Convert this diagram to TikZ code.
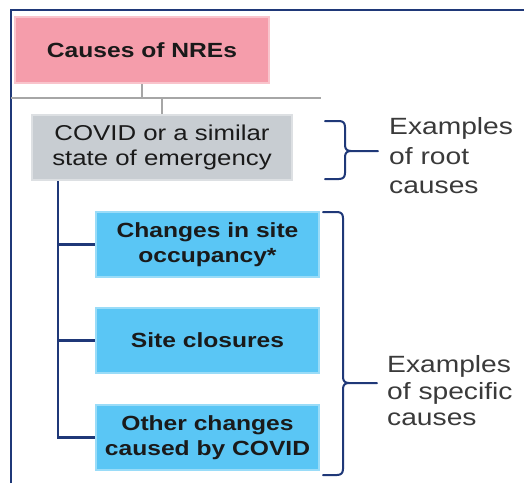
\documentclass[tikz,border=0pt]{standalone}
\usepackage{fontspec}
\setmainfont{Liberation Sans}[FakeStretch=1.2]
\definecolor{navy}{HTML}{1F3878}
\definecolor{pinkfill}{HTML}{F59DAB}
\definecolor{pinkline}{HTML}{F9C4CC}
\definecolor{greyfill}{HTML}{C8CDD2}
\definecolor{greyline}{HTML}{DDE0E3}
\definecolor{bluefill}{HTML}{5AC6F5}
\definecolor{blueline}{HTML}{9ADCF8}
\definecolor{connector}{HTML}{A6A6A6}
\definecolor{labeltext}{HTML}{3A3A3A}
\definecolor{boxtext}{HTML}{1A1A1A}
\tikzset{
  box/.style={draw, line width=2pt, inner sep=0pt, align=center, text=boxtext},
  pinkbox/.style={box, fill=pinkfill, draw=pinkline, minimum width=254pt, minimum height=66pt, font=\bfseries\fontsize{20.5}{25}\selectfont},
  greybox/.style={box, fill=greyfill, draw=greyline, minimum width=260pt, minimum height=65pt, font=\fontsize{21.5}{25}\selectfont},
  bluebox/.style={box, fill=bluefill, draw=blueline, minimum width=223pt, minimum height=65pt, font=\bfseries\fontsize{20.5}{25}\selectfont},
  greyconn/.style={draw=connector, line width=2pt},
  navyconn/.style={draw=navy, line width=2.2pt},
  bracestyle/.style={draw=navy, line width=2pt, line cap=round},
  examples/.style={anchor=west, align=left, inner sep=0pt, text=labeltext},
}
\begin{document}
\begin{tikzpicture}[x=1pt, y=-1pt]
\useasboundingbox (0,0) rectangle (524,483);
% frame
\draw[navyconn, line width=2.4pt] (11,483) -- (11,10) -- (524,10);
% nodes
\node[pinkbox] (root) at (142,50) {Causes of NREs};
\node[greybox] (covid) at (162,147.5) {COVID or a similar\\state of emergency};
\node[bluebox] (b1) at (207.5,244.5) {Changes in site\\occupancy*};
\node[bluebox] (b2) at (207.5,340.5) {Site closures};
\node[bluebox] (b3) at (207.5,437.5) {Other changes\\caused by COVID};
% grey connectors
\coordinate (hleft) at (11,98);
\coordinate (hright) at (321,98);
\draw[greyconn] (hleft) -- (hright);
\draw[greyconn] (root.south) -- (root.south |- hleft);
\draw[greyconn] (covid.north |- hleft) -- (covid.north);
% navy tree
\coordinate (trunk) at (58,0);
\draw[navyconn] (trunk |- covid.south) |- (b3.west);
\draw[navyconn] (trunk |- b1.west) -- (b1.west);
\draw[navyconn] (trunk |- b2.west) -- (b2.west);
% labels
\node[examples, font=\fontsize{23.5}{29.5}\selectfont] (ex1) at (389,156) {Examples\\of root\\causes};
\node[examples, font=\fontsize{23.5}{26.5}\selectfont] (ex2) at (387,391) {Examples\\of specific\\causes};
% braces
\coordinate (tip1) at (378,151);
\draw[bracestyle] (325,121) -- (339,121) .. controls (343,121) and (345,123) .. (345,127) -- (345,145)
  .. controls (345,149) and (347,151) .. (351,151) -- (tip1);
\draw[bracestyle] (351,151) .. controls (347,151) and (345,153) .. (345,157) -- (345,173)
  .. controls (345,177) and (343,179) .. (339,179) -- (325,179);
\coordinate (tip2) at (377,383);
\draw[bracestyle] (323,212) -- (337,212) .. controls (341,212) and (343,214) .. (343,218) -- (343,377)
  .. controls (343,381) and (345,383) .. (349,383) -- (tip2);
\draw[bracestyle] (349,383) .. controls (345,383) and (343,385) .. (343,389) -- (343,469)
  .. controls (343,473) and (341,475) .. (337,475) -- (323,475);
\end{tikzpicture}
\end{document}
